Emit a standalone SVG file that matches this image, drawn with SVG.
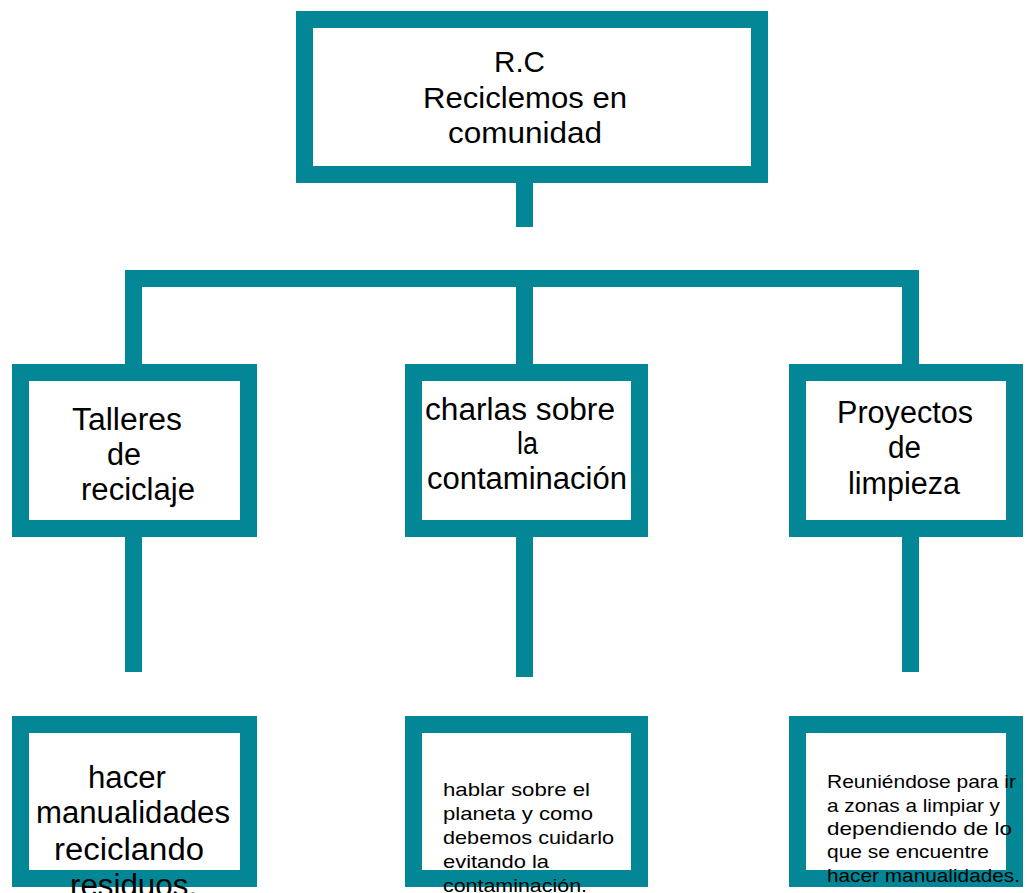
<svg xmlns="http://www.w3.org/2000/svg" width="1028" height="893" viewBox="0 0 1028 893">
<style>
.box{fill:#ffffff;stroke:#038796;stroke-width:17}
.con{fill:none;stroke:#038796;stroke-width:17;stroke-linecap:butt;stroke-linejoin:miter}
text{font-family:"Liberation Sans",Arial,sans-serif;fill:#000000}
.t{font-size:29px}
.m{font-size:31px}
.s{font-size:19px}
</style>
<rect width="1028" height="893" fill="#ffffff"/>
<g id="connectors">
<path class="con" d="M524.5 183 V227"/>
<path class="con" d="M133.5 365 V278.5 H910.5 V365"/>
<path class="con" d="M524.5 287 V365"/>
<path class="con" d="M133.5 537 V672"/>
<path class="con" d="M524.5 537 V677"/>
<path class="con" d="M910.5 537 V672"/>
</g>
<g id="root">
<rect class="box" x="304.5" y="19.5" width="455" height="155"/>
<text class="t" x="494" y="72" textLength="51" lengthAdjust="spacingAndGlyphs">R.C</text>
<text class="t" x="423" y="108" textLength="204" lengthAdjust="spacingAndGlyphs">Reciclemos en</text>
<text class="t" x="448" y="143" textLength="154" lengthAdjust="spacingAndGlyphs">comunidad</text>
</g>
<g id="talleres">
<rect class="box" x="20.5" y="372.5" width="228" height="156"/>
<text class="m" x="72" y="430" textLength="110" lengthAdjust="spacingAndGlyphs">Talleres</text>
<text class="m" x="107" y="465" textLength="34" lengthAdjust="spacingAndGlyphs">de</text>
<text class="m" x="81" y="500" textLength="114" lengthAdjust="spacingAndGlyphs">reciclaje</text>
</g>
<g id="charlas">
<rect class="box" x="413.5" y="372.5" width="226" height="156"/>
<text class="m" x="425" y="420" textLength="190" lengthAdjust="spacingAndGlyphs">charlas sobre</text>
<text class="m" x="517" y="454" textLength="21" lengthAdjust="spacingAndGlyphs">la</text>
<text class="m" x="427" y="489" textLength="200" lengthAdjust="spacingAndGlyphs">contaminación</text>
</g>
<g id="proyectos">
<rect class="box" x="797.5" y="372.5" width="217" height="156"/>
<text class="m" x="837" y="423" textLength="136" lengthAdjust="spacingAndGlyphs">Proyectos</text>
<text class="m" x="888" y="458" textLength="33" lengthAdjust="spacingAndGlyphs">de</text>
<text class="m" x="848" y="494" textLength="112" lengthAdjust="spacingAndGlyphs">limpieza</text>
</g>
<g id="hacer">
<rect class="box" x="20.5" y="724.5" width="228" height="154"/>
<text class="m" x="88" y="788" textLength="78" lengthAdjust="spacingAndGlyphs">hacer</text>
<text class="m" x="36" y="823" textLength="194" lengthAdjust="spacingAndGlyphs">manualidades</text>
<text class="m" x="54" y="860" textLength="150" lengthAdjust="spacingAndGlyphs">reciclando</text>
<text class="m" x="70" y="896" textLength="127" lengthAdjust="spacingAndGlyphs">residuos.</text>
</g>
<g id="hablar">
<rect class="box" x="413.5" y="724.5" width="226" height="154"/>
<text class="s" x="443" y="796" textLength="147" lengthAdjust="spacingAndGlyphs">hablar sobre el</text>
<text class="s" x="443" y="820" textLength="150" lengthAdjust="spacingAndGlyphs">planeta y como</text>
<text class="s" x="443" y="844" textLength="171" lengthAdjust="spacingAndGlyphs">debemos cuidarlo</text>
<text class="s" x="443" y="868" textLength="106" lengthAdjust="spacingAndGlyphs">evitando la</text>
<text class="s" x="443" y="892" textLength="144" lengthAdjust="spacingAndGlyphs">contaminación.</text>
</g>
<g id="reuniendose">
<rect class="box" x="797.5" y="724.5" width="217" height="154"/>
<text class="s" x="827" y="788" textLength="189" lengthAdjust="spacingAndGlyphs">Reuniéndose para ir</text>
<text class="s" x="827" y="812" textLength="173" lengthAdjust="spacingAndGlyphs">a zonas a limpiar y</text>
<text class="s" x="827" y="835" textLength="185" lengthAdjust="spacingAndGlyphs">dependiendo de lo</text>
<text class="s" x="827" y="858" textLength="162" lengthAdjust="spacingAndGlyphs">que se encuentre</text>
<text class="s" x="827" y="882" textLength="193" lengthAdjust="spacingAndGlyphs">hacer manualidades.</text>
</g>
</svg>
